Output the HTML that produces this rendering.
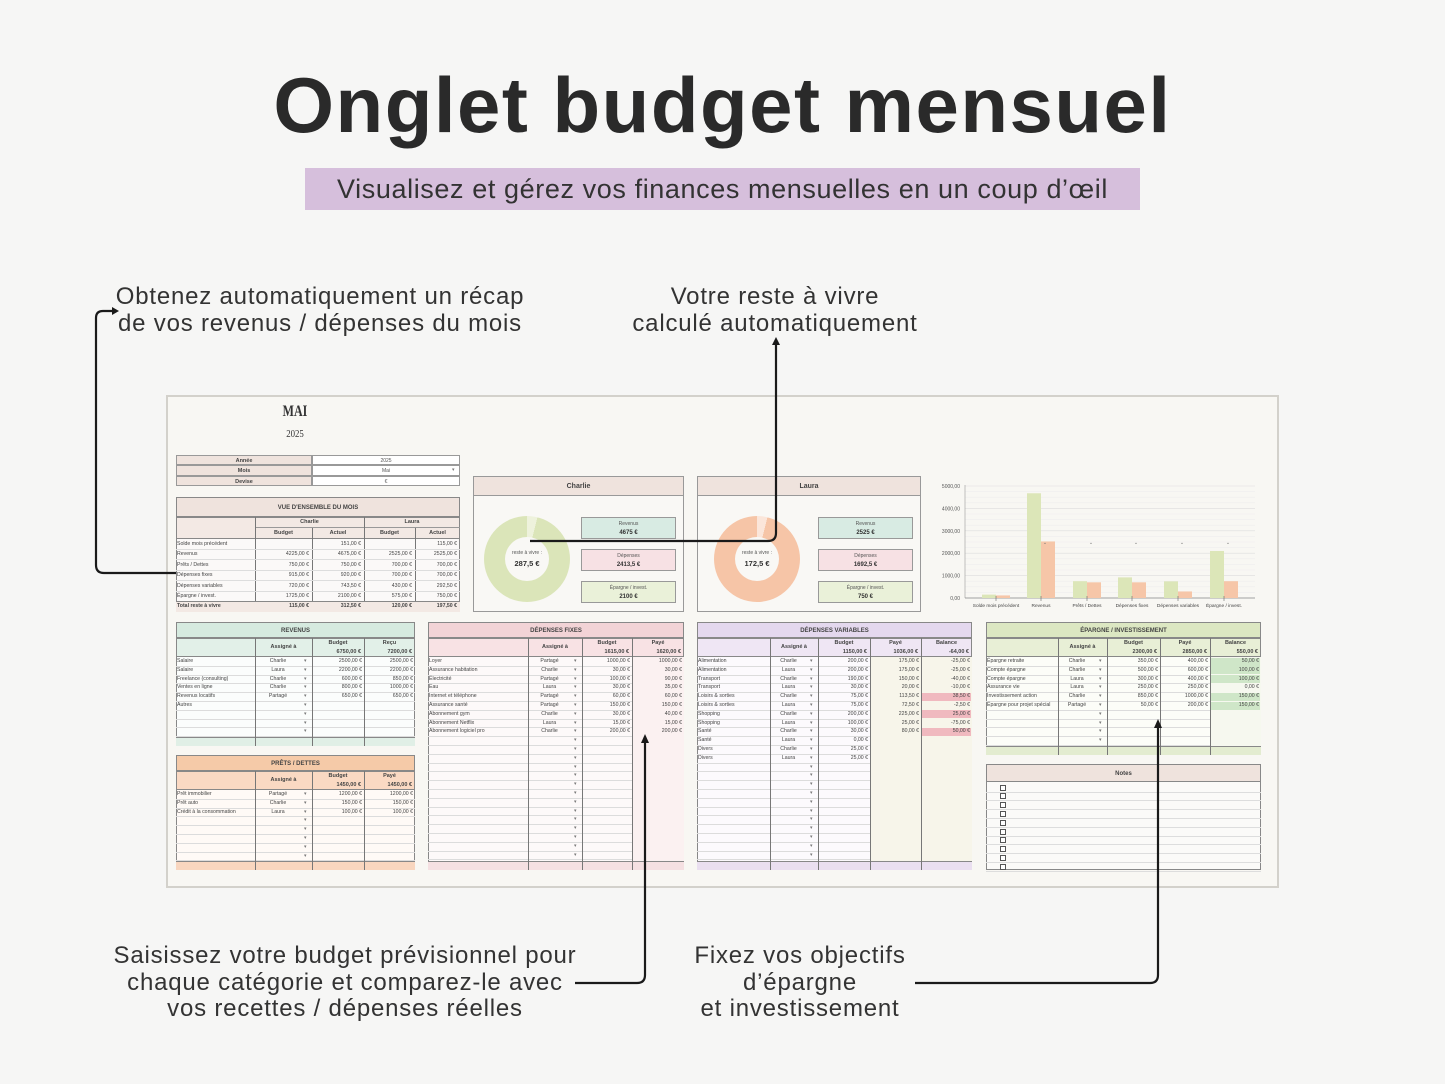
<!DOCTYPE html>
<html><head><meta charset="utf-8">
<style>
*{margin:0;padding:0;box-sizing:border-box}
body{width:1445px;height:1084px;background:#f6f6f5;position:relative;overflow:hidden;font-family:"Liberation Sans",sans-serif;color:#2b2b2b}
.a{position:absolute}
.t{position:absolute;font-size:24px;color:#333;text-align:center;line-height:26.5px;letter-spacing:0.8px;white-space:nowrap}
</style></head><body>
<div class="a" style="left:0;top:60px;width:1445px;text-align:center;font-size:78px;font-weight:bold;letter-spacing:1.5px;color:#2a2a2a">Onglet budget mensuel</div>
<div class="a" style="left:305px;top:168px;width:835px;height:42px;background:#d6bfdc;text-align:center;font-size:27px;line-height:42px;color:#333;letter-spacing:0.6px">Visualisez et gérez vos finances mensuelles en un coup d’œil</div>
<div class="t" style="left:90px;top:284px;width:460px">Obtenez automatiquement un récap<br>de vos revenus / dépenses du mois</div>
<div class="t" style="left:580px;top:284px;width:390px">Votre reste à vivre<br>calculé automatiquement</div>
<div class="t" style="left:90px;top:943px;width:510px">Saisissez votre budget prévisionnel pour<br>chaque catégorie et comparez-le avec<br>vos recettes / dépenses réelles</div>
<div class="t" style="left:670px;top:943px;width:260px">Fixez vos objectifs<br>d’épargne<br>et investissement</div>

<div class="a" id="sheet" style="left:166px;top:395px;width:1113px;height:493px;background:#f8f7f3;border:2px solid #d3d1cb"></div>
<div id="root"></div>
<svg class="a" style="left:0;top:0" width="1445" height="1084" id="svg"></svg>

<script>
var R=document.getElementById('root');
function d(x,y,w,h,st,html){var e=document.createElement('div');e.className='a';e.style.cssText='left:'+x+'px;top:'+y+'px;width:'+w+'px;height:'+h+'px;'+(st||'');if(html!==undefined)e.innerHTML=html;R.appendChild(e);return e;}
function cell(x,y,w,txt,al,st){d(x+1,y,w-3,8.8,'font-size:5.2px;line-height:8.8px;color:#444;white-space:nowrap;overflow:hidden;text-align:'+(al||'left')+';'+(st||''),txt);}
function table(o){
 var x=o.x,y=o.y,cols=o.cols,w=cols[cols.length-1]-x,rh=8.8;
 var bodyTop=y+o.th+o.hh, bodyBot=o.y2-9;
 d(x,y,w,o.y2-y,'background:'+o.body+';border:1px solid #888');
 d(x,y,w,o.th,'background:'+o.hc+';border:1px solid #888;text-align:center;font-size:6px;font-weight:bold;line-height:'+o.th+'px;color:#444',o.title);
 d(x,y+o.th,w,o.hh,'background:'+o.hc2+';border:1px solid #888');
 for(var i=0;i<o.heads.length;i++){var hx=cols[i+1],hw=cols[i+2]-cols[i+1];var h=o.heads[i];
  if(h.indexOf('|')<0)d(hx,y+o.th,hw,o.hh,'text-align:center;font-size:5.5px;font-weight:bold;line-height:'+o.hh+'px;color:#444',h);
  else{var p=h.split('|');d(hx,y+o.th+1,hw,9,'text-align:center;font-size:5.5px;font-weight:bold;line-height:8px;color:#444',p[0]);d(hx+1,y+o.th+10,hw-4,9,'text-align:right;font-size:5.5px;font-weight:bold;line-height:8px;color:#444',p[1]);}
 }
 for(var yy=bodyTop+rh;yy<bodyBot;yy+=rh)d(x,yy,w,0.6,'background:#dcdcdc');
 if(o.shade)o.shade.forEach(function(s){d(cols[s],bodyTop,cols[s+1]-cols[s],bodyBot-bodyTop,'background:'+o.shc);});
 d(x,bodyBot,w,o.y2-bodyBot,'background:'+o.foot+';border-top:1px solid #888');
 for(var i=1;i<cols.length-1;i++)d(cols[i],y+o.th,0.8,o.y2-y-o.th,'background:#777');
 var n=Math.floor((bodyBot-bodyTop)/rh);
 for(var r=0;r<n;r++){var ry=bodyTop+r*rh,row=o.rows[r]||[];
  for(var c=0;c<cols.length-1;c++){var v=row[c];
   if(c==1){cell(cols[1],ry,cols[2]-cols[1]-10,v||'','center');d(cols[2]-8,ry,5,8.8,'font-size:5px;line-height:8.8px;color:#777','▾');continue;}
   if(v===undefined||v==='')continue;
   var hl=(o.hl&&o.hl[r+'_'+c])?'background:'+o.hl[r+'_'+c]+';':'';
   if(hl)d(cols[c]+1,ry+0.5,cols[c+1]-cols[c]-2,8,hl);
   cell(cols[c],ry,cols[c+1]-cols[c],v,c==0?'left':'right');}
 }
}
function E(v){return v+' €';}
table({x:176,y:622,y2:746,cols:[176,255,312,364,415],th:16,hh:19,title:'REVENUS',hc:'#d6eadf',hc2:'#e2f0e8',body:'#fbfdfc',foot:'#e0efe6',
 heads:['Assigné à','Budget|6750,00 €','Reçu|7200,00 €'],
 rows:[['Salaire','Charlie',E('2500,00'),E('2500,00')],['Salaire','Laura',E('2200,00'),E('2200,00')],['Freelance (consulting)','Charlie',E('600,00'),E('850,00')],['Ventes en ligne','Charlie',E('800,00'),E('1000,00')],['Revenus locatifs','Partagé',E('650,00'),E('650,00')],['Autres']]});
table({x:176,y:755,y2:870,cols:[176,255,312,364,415],th:16,hh:19,title:'PRÊTS / DETTES',hc:'#f5caa8',hc2:'#fad9c3',body:'#fffaf6',foot:'#f8d6bf',
 heads:['Assigné à','Budget|1450,00 €','Payé|1450,00 €'],
 rows:[['Prêt immobilier','Partagé',E('1200,00'),E('1200,00')],['Prêt auto','Charlie',E('150,00'),E('150,00')],['Crédit à la consommation','Laura',E('100,00'),E('100,00')]]});
table({x:428,y:622,y2:870,cols:[428,528,582,632,684],th:16,hh:19,title:'DÉPENSES FIXES',hc:'#f2d3d6',hc2:'#f8e2e4',body:'#fdf9f9',foot:'#f5e0e2',shade:[3],shc:'#fbf1f1',
 heads:['Assigné à','Budget|1615,00 €','Payé|1620,00 €'],
 rows:[['Loyer','Partagé',E('1000,00'),E('1000,00')],['Assurance habitation','Charlie',E('30,00'),E('30,00')],['Électricité','Partagé',E('100,00'),E('90,00')],['Eau','Laura',E('30,00'),E('35,00')],['Internet et téléphone','Partagé',E('60,00'),E('60,00')],['Assurance santé','Partagé',E('150,00'),E('150,00')],['Abonnement gym','Charlie',E('30,00'),E('40,00')],['Abonnement Netflix','Laura',E('15,00'),E('15,00')],['Abonnement logiciel pro','Charlie',E('200,00'),E('200,00')]]});
table({x:697,y:622,y2:870,cols:[697,770,818,870,921,972],th:16,hh:19,title:'DÉPENSES VARIABLES',hc:'#e4d8ee',hc2:'#efe6f4',body:'#fcfafd',foot:'#eadff0',shade:[3,4],shc:'#f7f5ea',
 heads:['Assigné à','Budget|1150,00 €','Payé|1036,00 €','Balance|-64,00 €'],
 hl:{'4_4':'#f0b9bf','6_4':'#f0b9bf','8_4':'#f0b9bf'},
 rows:[['Alimentation','Charlie',E('200,00'),E('175,00'),E('-25,00')],['Alimentation','Laura',E('200,00'),E('175,00'),E('-25,00')],['Transport','Charlie',E('190,00'),E('150,00'),E('-40,00')],['Transport','Laura',E('30,00'),E('20,00'),E('-10,00')],['Loisirs &amp; sorties','Charlie',E('75,00'),E('113,50'),E('38,50')],['Loisirs &amp; sorties','Laura',E('75,00'),E('72,50'),E('-2,50')],['Shopping','Charlie',E('200,00'),E('225,00'),E('25,00')],['Shopping','Laura',E('100,00'),E('25,00'),E('-75,00')],['Santé','Charlie',E('30,00'),E('80,00'),E('50,00')],['Santé','Laura',E('0,00')],['Divers','Charlie',E('25,00')],['Divers','Laura',E('25,00')]]});
table({x:986,y:622,y2:755,cols:[986,1058,1107,1160,1210,1261],th:16,hh:19,title:'ÉPARGNE / INVESTISSEMENT',hc:'#dce7c2',hc2:'#e8efd6',body:'#fcfdf8',foot:'#e3ecd0',shade:[4],shc:'#f6f8ef',
 heads:['Assigné à','Budget|2300,00 €','Payé|2850,00 €','Balance|550,00 €'],
 hl:{'0_4':'#cfe6c8','1_4':'#cfe6c8','2_4':'#cfe6c8','4_4':'#cfe6c8','5_4':'#cfe6c8'},
 rows:[['Épargne retraite','Charlie',E('350,00'),E('400,00'),E('50,00')],['Compte épargne','Charlie',E('500,00'),E('600,00'),E('100,00')],['Compte épargne','Laura',E('300,00'),E('400,00'),E('100,00')],['Assurance vie','Laura',E('250,00'),E('250,00'),E('0,00')],['Investissement action','Charlie',E('850,00'),E('1000,00'),E('150,00')],['Épargne pour projet spécial','Partagé',E('50,00'),E('200,00'),E('150,00')]]});
d(986,764,275,106,'background:#fbfaf8;border:1px solid #888');
d(986,764,275,18,'background:#efe3dd;border:1px solid #888;text-align:center;font-size:6px;font-weight:bold;line-height:18px;color:#444','Notes');
for(var i=0;i<10;i++){var yy=783+i*8.8;d(986,yy+8.6,275,0.6,'background:#ddd');d(1000,yy+1.5,6,6,'border:1px solid #555;background:#fff');}
d(260,403,70,20,'text-align:center;font-family:\"Liberation Serif\",serif;font-size:16px;font-weight:bold;color:#333;transform:scaleX(.75)','MAI');
d(260,428,70,16,'text-align:center;font-family:\"Liberation Serif\",serif;font-size:11px;color:#333;transform:scaleX(.8)','2025');
var it=[['Année','2025'],['Mois','Mai'],['Devise','€']];
d(176,455,284,31,'border:1px solid #888;background:#fff');
it.forEach(function(r,i){var y=455+i*10.3;d(176,y,136,10.3,'background:#efe3dd;border:0.5px solid #999;text-align:center;font-size:5.5px;font-weight:bold;line-height:10px;color:#444',r[0]);d(312,y,148,10.3,'border:0.5px solid #999;text-align:center;font-size:5px;line-height:10px;color:#555',r[1]);});
d(452,465,6,10,'font-size:5px;line-height:10px;color:#777','▾');
d(176,497,284,115,'border:1px solid #888;background:#fbf9f8');
d(176,497,284,20,'background:#efe3dd;border:1px solid #888;text-align:center;font-size:6px;font-weight:bold;line-height:20px;color:#444',"VUE D'ENSEMBLE DU MOIS");
d(176,517,284,22,'background:#f3e9e4;border:1px solid #888');
d(255,517,109,11,'text-align:center;font-size:5.5px;font-weight:bold;line-height:11px;color:#444;border-bottom:0.5px solid #999','Charlie');
d(364,517,96,11,'text-align:center;font-size:5.5px;font-weight:bold;line-height:11px;color:#444;border-bottom:0.5px solid #999','Laura');
var vc=[176,255,312,364,415,460];
['Budget','Actuel','Budget','Actuel'].forEach(function(h,i){d(vc[i+1],528,vc[i+2]-vc[i+1],11,'text-align:center;font-size:5.5px;font-weight:bold;line-height:11px;color:#444',h);});
[255,312,364,415].forEach(function(x){d(x,517+(x==312||x==415?11:0),0.8,95-(x==312||x==415?11:0),'background:#777');});
var vr=[['Solde mois précédent','',E('151,00'),'',E('115,00')],['Revenus',E('4225,00'),E('4675,00'),E('2525,00'),E('2525,00')],['Prêts / Dettes',E('750,00'),E('750,00'),E('700,00'),E('700,00')],['Dépenses fixes',E('915,00'),E('920,00'),E('700,00'),E('700,00')],['Dépenses variables',E('720,00'),E('743,50'),E('430,00'),E('292,50')],['Épargne / invest.',E('1725,00'),E('2100,00'),E('575,00'),E('750,00')],['Total reste à vivre',E('115,00'),E('312,50'),E('120,00'),E('197,50')]];
vr.forEach(function(r,i){var y=539+i*10.4;d(176,y+10,284,0.6,'background:#ddd');if(i==6)d(176,y,284,10.4,'background:#f3e9e4;border-top:1px solid #888');
 r.forEach(function(v,c){if(v)d(vc[c]+1,y,vc[c+1]-vc[c]-4,10.4,'font-size:5.2px;line-height:10.4px;color:#444;white-space:nowrap;text-align:'+(c?'right':'left')+(i==6?';font-weight:bold':''),v);});});
function card(x,w,name,col,lite,rest,rev,dep,ep,bx){
 d(x,476,w,136,'border:1px solid #999;background:#f9f8f5');
 d(x,476,w,20,'background:#efe3dd;border:1px solid #999;text-align:center;font-size:7px;font-weight:bold;line-height:20px;color:#444',name);
 var cx=x+(name=='Charlie'?54:60);
 d(cx-43,516,86,86,'border-radius:50%;background:conic-gradient('+lite+' 0 14deg,'+col+' 14deg 360deg)');
 d(cx-22,537,44,44,'border-radius:50%;background:#f9f8f5');
 d(cx-25,550,50,8,'text-align:center;font-size:5px;color:#555','reste à vivre :');
 d(cx-25,559,50,10,'text-align:center;font-size:7.5px;font-weight:bold;color:#333',rest);
 [['Revenus',rev,'#d8ebe3',517],['Dépenses',dep,'#f7e1e4',549],['Épargne / invest.',ep,'#eaf1d9',581]].forEach(function(b){
  d(bx,b[3],95,22,'background:'+b[2]+';border:1px solid #999;text-align:center;font-size:5px;line-height:9px;padding-top:2px;color:#555',b[0]+'<br><b style="font-size:6px;color:#333">'+b[1]+'</b>');});
}
card(473,211,'Charlie','#dbe5b9','#eef2dc','287,5 €','4675 €','2413,5 €','2100 €',581);
card(697,224,'Laura','#f6c5a7','#fbe6da','172,5 €','2525 €','1692,5 €','750 €',818);
var S=document.getElementById('svg'),s='';
for(var i=0;i<=20;i++){var y=598-i*5.6;s+='<line x1="965" x2="1255" y1="'+y+'" y2="'+y+'" stroke="'+(i%4==0?'#ddd':'#eee')+'" stroke-width="0.6"/>';}
[0,1,2,3,4,5].forEach(function(k){var y=598-k*22.4;s+='<text x="960" y="'+(y+2)+'" font-size="5" text-anchor="end" fill="#555" font-family="Liberation Sans">'+(k?k+'000,00':'0,00')+'</text>';});
s+='<line x1="965" x2="965" y1="485" y2="598" stroke="#999" stroke-width="0.6"/><line x1="965" x2="1255" y1="598" y2="598" stroke="#888" stroke-width="0.8"/>';
var cs=[151,4675,750,920,743.5,2100],ls=[115,2525,700,700,292.5,750],cen=[996,1041,1087,1132,1178,1224],lab=['Solde mois précédent','Revenus','Prêts / Dettes','Dépenses fixes','Dépenses variables','Épargne / invest.'];
for(var i=0;i<6;i++){var hc=cs[i]*112/5000,hl=ls[i]*112/5000;
 s+='<rect x="'+(cen[i]-14)+'" y="'+(598-hc)+'" width="14" height="'+hc+'" fill="#dce6b8"/>';
 s+='<rect x="'+cen[i]+'" y="'+(598-hl)+'" width="14" height="'+hl+'" fill="#f6c6a8"/>';
 s+='<line x1="'+cen[i]+'" x2="'+cen[i]+'" y1="596" y2="601" stroke="#666" stroke-width="0.6"/>';
 s+='<text x="'+cen[i]+'" y="607" font-size="4.8" text-anchor="middle" fill="#444" font-family="Liberation Sans">'+lab[i]+'</text>';
 if(i>0)s+='<text x="'+(cen[i]+4)+'" y="544" font-size="5" text-anchor="middle" fill="#777">⌄</text>';}
var L='stroke="#1a1a1a" stroke-width="2.2" fill="none"';
s+='<path d="M176 573 H104 Q96 573 96 565 V318 Q96 311 103 311 H113" '+L+'/><polygon points="119,311 112,307 112,315" fill="#1a1a1a"/>';
s+='<path d="M530 541 H768 Q776 541 776 533 V344" '+L+'/><polygon points="776,337 772,345 780,345" fill="#1a1a1a"/>';
s+='<path d="M575 983 H637 Q645 983 645 975 V742" '+L+'/><polygon points="645,734 641,743 649,743" fill="#1a1a1a"/>';
s+='<path d="M915 983 H1150 Q1158 983 1158 975 V727" '+L+'/><polygon points="1158,719 1154,728 1162,728" fill="#1a1a1a"/>';
S.innerHTML=s;
</script>
</body></html>
